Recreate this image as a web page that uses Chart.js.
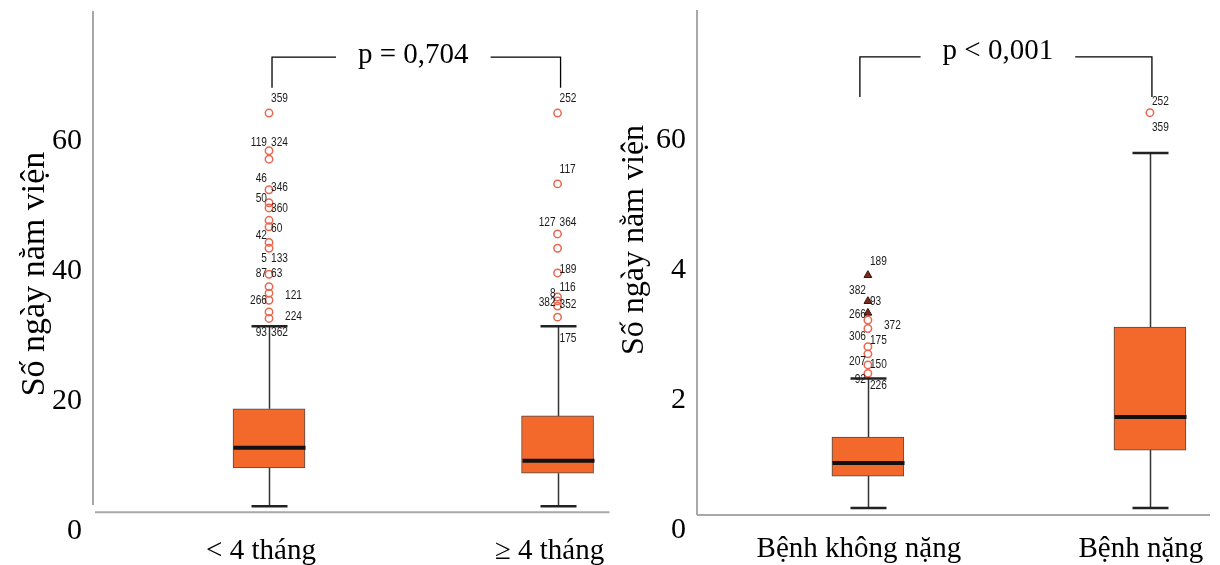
<!DOCTYPE html>
<html><head><meta charset="utf-8">
<script src="https://cdn.jsdelivr.net/npm/chart.js@4.4.1/dist/chart.umd.min.js"></script>
<style>
html,body{margin:0;padding:0;background:#fff;}
#wrap{position:relative;width:1220px;height:565px;overflow:hidden;}
#c1{position:absolute;left:0;top:0;}
#c2{position:absolute;left:615px;top:0;}
</style></head><body>
<div id="wrap"><canvas id="c1"></canvas><canvas id="c2"></canvas></div>
<script>
// ---------------- DATA ----------------
const categoriesAge = ["< 4 tháng", "≥ 4 tháng"];
const categoriesSeverity = ["Bệnh không nặng", "Bệnh nặng"];
const yTickValues = [0, 20, 40, 60];
const yTickLabelsAge = ["0", "20", "40", "60"];
const yTickLabelsSeverity = ["0", "2", "4", "60"];
const yAxisTitle = "Số ngày nằm viện";
const pValueAge = "p = 0,704";
const pValueSeverity = "p < 0,001";

// box statistics: [lower whisker, Q1, median, Q3, upper whisker]
const boxAgeUnder4 = [3.8, 9.7, 12.8, 18.8, 31.5];
const boxAgeOver4 = [3.8, 8.9, 10.8, 17.7, 31.5];
const boxNotSevere = [3.4, 8.3, 10.3, 14.3, 23.3];
const boxSevere = [3.4, 12.3, 17.4, 31.2, 58.0];

// outliers (circles) and extremes (triangles)
const outliersAgeUnder4 = [64.3, 58.5, 57.2, 52.5, 50.5, 49.7, 47.8, 46.8, 44.4, 43.5, 39.5, 37.6, 36.6, 35.5, 33.7, 32.7];
const outliersAgeOver4 = [64.3, 53.4, 45.7, 43.5, 39.7, 36.0, 35.4, 34.6, 32.9];
const outliersNotSevere = [32.3, 31.0, 28.2, 27.1, 25.4, 24.1];
const extremesNotSevere = [39.2, 35.2, 33.4];
const outliersSevere = [64.2];

// case-number labels: [text, value, side] side: -1 left, 1 right, 2 far right
const caseLabelsAgeUnder4 = [["359",66.6,1],["119",59.8,-1],["324",59.8,1],["46",54.3,-1],["346",52.8,1],["50",51.2,-1],["360",49.7,1],["60",46.5,1],["42",45.5,-1],["5",42.0,-1],["133",42.0,1],["87",39.7,-1],["63",39.7,1],["121",36.3,2],["266",35.4,-1],["224",33.0,2],["93",30.6,-1],["362",30.6,1]];
const caseLabelsAgeOver4 = [["252",66.6,1],["117",55.7,1],["127",47.4,-1],["364",47.4,1],["189",40.3,1],["8",36.6,-1],["116",37.4,1],["382",35.1,-1],["352",34.8,1],["175",29.7,1]];
const caseLabelsNotSevere = [["189",41.3,1],["382",36.9,-1],["93",35.2,1],["266",33.1,-1],["372",31.4,2],["306",29.8,-1],["175",29.1,1],["207",25.9,-1],["150",25.4,1],["92",23.2,-1],["226",22.3,1]];
const caseLabelsSevere = [["252",66.0,1],["359",62.0,1]];

// ---------------- STYLE ----------------
const SERIF = '"Liberation Serif", "Times New Roman", serif';
const SANS = '"Liberation Sans", Arial, sans-serif';
const BOX_FILL = '#F2692B';
const OUTLIER_COLOR = '#E8674F';
const EXTREME_COLOR = '#7A2A1C';
const AXIS_COLOR = '#A8A8A8';
const LABEL_SQUEEZE = 0.78;

function makeExtras(cfg) {
  return {
    id: 'extras',
    beforeDatasetsDraw(chart) {
      const {ctx} = chart; const x = chart.scales.x, y = chart.scales.y;
      ctx.save();
      ctx.strokeStyle = '#333'; ctx.lineWidth = 1.5;
      cfg.boxes.forEach((b, i) => {
        const cx = Math.round(x.getPixelForValue(i + 1)) + 0.5;
        ctx.beginPath();
        ctx.moveTo(cx, y.getPixelForValue(b[0])); ctx.lineTo(cx, y.getPixelForValue(b[1]));
        ctx.moveTo(cx, y.getPixelForValue(b[3])); ctx.lineTo(cx, y.getPixelForValue(b[4]));
        ctx.stroke();
      });
      ctx.restore();
    },
    afterDatasetsDraw(chart) {
      const {ctx} = chart; const x = chart.scales.x, y = chart.scales.y;
      const bars = chart.getDatasetMeta(0).data;
      ctx.save();
      cfg.boxes.forEach((b, i) => {
        const cx = Math.round(x.getPixelForValue(i + 1)) + 0.5;
        const hw = bars[i].width / 2;
        ctx.strokeStyle = '#111'; ctx.lineWidth = 4;
        const my = y.getPixelForValue(b[2]);
        ctx.beginPath(); ctx.moveTo(cx - hw, my); ctx.lineTo(cx + hw, my); ctx.stroke();
        ctx.strokeStyle = '#222'; ctx.lineWidth = 2.5;
        [b[0], b[4]].forEach(v => {
          const py = y.getPixelForValue(v);
          ctx.beginPath(); ctx.moveTo(cx - hw / 2, py); ctx.lineTo(cx + hw / 2, py); ctx.stroke();
        });
      });
      // case labels (condensed sans)
      ctx.font = '13px ' + SANS; ctx.fillStyle = '#1a1a1a'; ctx.textBaseline = 'middle';
      cfg.caseLabels.forEach((list, i) => {
        const cx = x.getPixelForValue(i + 1);
        list.forEach(([t, v, side]) => {
          const py = y.getPixelForValue(v);
          const w = ctx.measureText(t).width * LABEL_SQUEEZE;
          const left = side < 0 ? cx - 2 - w : cx + (side === 2 ? 16 : 2);
          ctx.save();
          ctx.translate(left, py);
          ctx.scale(LABEL_SQUEEZE, 1);
          ctx.textAlign = 'left';
          ctx.fillText(t, 0, 0);
          ctx.restore();
        });
      });
      ctx.restore();
    },
    afterDraw(chart) {
      const {ctx, chartArea: ca} = chart; const x = chart.scales.x, y = chart.scales.y;
      ctx.save();
      // axes
      ctx.strokeStyle = AXIS_COLOR; ctx.lineWidth = 2;
      const baseY = y.getPixelForValue(cfg.axisBase);
      ctx.beginPath();
      ctx.moveTo(ca.left, ca.top); ctx.lineTo(ca.left, y.getPixelForValue(cfg.axisStop));
      ctx.moveTo(ca.left + cfg.axisGap, baseY); ctx.lineTo(ca.right, baseY);
      ctx.stroke();
      // bracket
      const br = cfg.bracket;
      const x1 = x.getPixelForValue(1) + br.dx1, x2 = x.getPixelForValue(2) + br.dx2;
      const yt = y.getPixelForValue(br.top), yb = y.getPixelForValue(br.bottom);
      ctx.font = br.size + 'px ' + SERIF;
      const tw = ctx.measureText(br.text).width;
      const mid = (x1 + x2) / 2 + br.textShift;
      ctx.strokeStyle = '#000'; ctx.lineWidth = 1.3;
      ctx.beginPath();
      ctx.moveTo(x1, yb); ctx.lineTo(x1, yt); ctx.lineTo(mid - tw / 2 - br.gap, yt);
      ctx.moveTo(mid + tw / 2 + br.gap, yt); ctx.lineTo(x2, yt); ctx.lineTo(x2, yb);
      ctx.stroke();
      ctx.fillStyle = '#000'; ctx.textAlign = 'center'; ctx.textBaseline = 'middle';
      ctx.fillText(br.text, mid, yt + br.textDy);
      // y title
      ctx.translate(cfg.title.x, cfg.title.y);
      ctx.rotate(-Math.PI / 2);
      ctx.font = cfg.title.size + 'px ' + SERIF;
      ctx.fillText(yAxisTitle, 0, 0);
      ctx.restore();
    }
  };
}

function makeChart(id, w, opts) {
  const cv = document.getElementById(id);
  cv.width = w; cv.height = 565; cv.style.width = w + 'px'; cv.style.height = '565px';
  const datasets = [{
    type: 'bar',
    data: opts.boxes.map((b, i) => ({x: i + 1, y: [b[1], b[3]]})),
    backgroundColor: BOX_FILL, borderColor: '#4a4a4a', borderWidth: 1, borderSkipped: false,
    barThickness: 72, order: 2
  }];
  opts.outliers.forEach((arr, i) => {
    datasets.push({
      type: 'scatter', data: arr.map(v => ({x: i + 1, y: v})),
      pointStyle: 'circle', pointRadius: 3.7, pointBorderWidth: 1.5,
      pointBorderColor: OUTLIER_COLOR, pointBackgroundColor: 'rgba(255,255,255,0)', order: 1
    });
  });
  opts.extremes.forEach((arr, i) => {
    datasets.push({
      type: 'scatter', data: arr.map(v => ({x: i + 1, y: v})),
      pointStyle: 'triangle', pointRadius: 4.5, pointBorderWidth: 1,
      pointBorderColor: '#3a1208', pointBackgroundColor: EXTREME_COLOR, order: 1
    });
  });
  const noPad = s => { s.paddingTop = 0; s.paddingBottom = 0; s.paddingLeft = 0; s.paddingRight = 0; };
  return new Chart(cv, {
    type: 'bar',
    data: {datasets},
    options: {
      responsive: false, animation: false, devicePixelRatio: 1,
      layout: {padding: {top: opts.padTop, right: opts.padRight, left: 0, bottom: 0}},
      plugins: {legend: {display: false}, tooltip: {enabled: false}},
      scales: {
        x: {
          type: 'linear', min: opts.xMin, max: opts.xMax, offset: false,
          grid: {display: false}, border: {display: false},
          afterBuildTicks: s => { s.ticks = [{value: 1}, {value: 2}]; },
          afterFit: s => { s.height = opts.xHeight; noPad(s); },
          ticks: {
            autoSkip: false, maxRotation: 0, padding: opts.xPad, labelOffset: opts.labelOffset,
            color: '#000', font: {family: SERIF, size: 29},
            callback: (v, i) => opts.categories[i]
          }
        },
        y: {
          type: 'linear', min: 0, max: 80,
          grid: {display: false}, border: {display: false},
          afterBuildTicks: s => { s.ticks = yTickValues.map(v => ({value: v})); },
          afterFit: s => { s.width = opts.yWidth; noPad(s); },
          ticks: {
            padding: 3, color: '#000', font: {family: SERIF, size: 30},
            callback: (v, i) => opts.tickLabels[i]
          }
        }
      }
    },
    plugins: [makeExtras(opts)]
  });
}

makeChart('c1', 615, {
  categories: categoriesAge, tickLabels: yTickLabelsAge,
  boxes: [boxAgeUnder4, boxAgeOver4],
  outliers: [outliersAgeUnder4, outliersAgeOver4], extremes: [],
  caseLabels: [caseLabelsAgeUnder4, caseLabelsAgeOver4],
  xMin: 0.39, xMax: 2.18, padTop: 11, padRight: 3, xHeight: 34, yWidth: 93, xPad: -5, labelOffset: -8,
  axisBase: 2.9, axisStop: 4.0, axisGap: 2,
  bracket: {text: pValueAge, top: 72.9, bottom: 68.2, dx1: 3, dx2: 3, gap: 22, size: 29, textShift: -3, textDy: -2},
  title: {x: 35, y: 274, size: 34}
});
makeChart('c2', 605, {
  categories: categoriesSeverity, tickLabels: yTickLabelsSeverity,
  boxes: [boxNotSevere, boxSevere],
  outliers: [outliersNotSevere, outliersSevere], extremes: [extremesNotSevere, []],
  caseLabels: [caseLabelsNotSevere, caseLabelsSevere],
  xMin: 0.394, xMax: 2.213, padTop: 10, padRight: 10, xHeight: 35, yWidth: 82, xPad: -6, labelOffset: -9,
  axisBase: 2.3, axisStop: 2.3, axisGap: 0,
  bracket: {text: pValueSeverity, top: 72.8, bottom: 66.6, dx1: -8, dx2: 2, gap: 22, size: 29, textShift: -8, textDy: -5},
  title: {x: 20, y: 240, size: 32}
});
</script>
</body></html>
